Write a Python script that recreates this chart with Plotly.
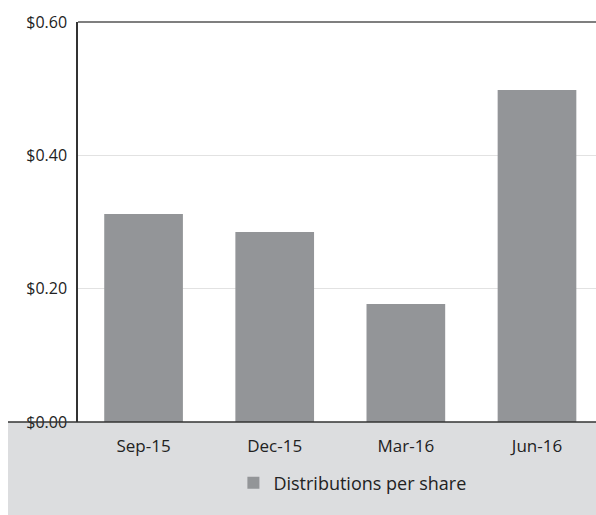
import plotly.graph_objects as go

categories = ["Sep-15", "Dec-15", "Mar-16", "Jun-16"]
distributions = [0.312, 0.285, 0.177, 0.498]
tick_vals = [0.0, 0.2, 0.4, 0.6]
tick_text = ["$0.00", "$0.20", "$0.40", "$0.60"]
series_name = "Distributions per share"

FONT = "Open Sans"
fig = go.Figure()
fig.add_trace(go.Bar(
    x=categories, y=distributions, name=series_name,
    marker=dict(color="#939598", line=dict(width=0)),
    width=0.6,
))

fig.update_layout(
    width=596, height=515,
    margin=dict(l=78, r=0, t=22, b=93),
    paper_bgcolor="white", plot_bgcolor="white",
    font=dict(family=FONT, size=16, color="#333333"),
    showlegend=True,
    legend=dict(
        orientation="h", x=0.30, xanchor="left", y=-0.1525, yanchor="middle",
        bgcolor="rgba(0,0,0,0)", font=dict(size=18, color="#222222"),
        itemwidth=30,
    ),
    xaxis=dict(
        type="category", range=[-0.5, 3.45],
        showgrid=False, showline=False, ticks="", zeroline=False,
        ticklabelstandoff=12,
        tickfont=dict(size=17, color="#222222"),
    ),
    yaxis=dict(
        range=[0, 0.6], tickvals=tick_vals, ticktext=tick_text,
        showgrid=True, gridcolor="#e2e2e2", gridwidth=1,
        showline=True, linecolor="#333333", linewidth=1.5,
        zeroline=False, ticks="", ticklabelstandoff=6,
        tickfont=dict(size=16, color="#222222"),
    ),
    shapes=[
        # grey band below the plot
        dict(type="rect", xref="paper", yref="paper",
             x0=-70/518, x1=1, y0=-93/400, y1=0,
             fillcolor="#dcdddf", line=dict(width=0), layer="below"),
        # bottom axis line
        dict(type="line", xref="paper", yref="paper",
             x0=-70/518, x1=1, y0=0, y1=0,
             line=dict(color="#333333", width=1.5)),
        # top frame line
        dict(type="line", xref="paper", yref="paper",
             x0=0, x1=1, y0=1, y1=1,
             line=dict(color="#555555", width=1.5)),
    ],
)

fig.write_html("out.html")
